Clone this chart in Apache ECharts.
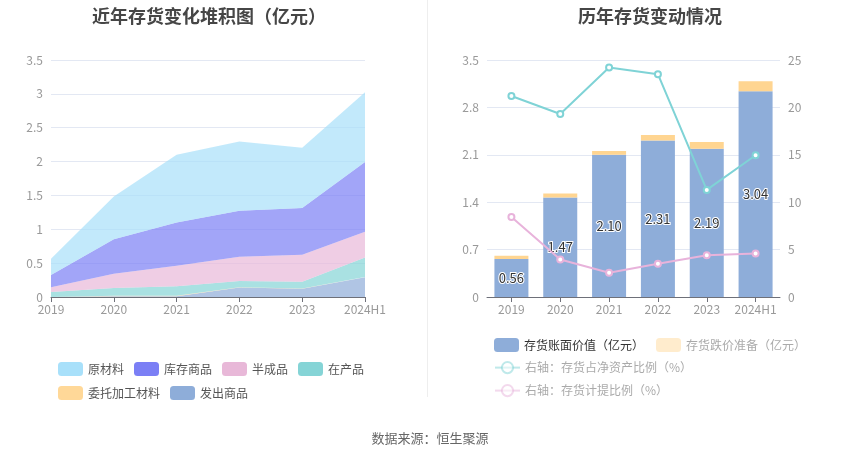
<!DOCTYPE html>
<html>
<head>
<meta charset="utf-8">
<script src="https://cdn.jsdelivr.net/npm/echarts@6/dist/echarts.min.js"></script>
<style>
  html, body { margin: 0; padding: 0; background: #fff; }
  #main { width: 850px; height: 459px; }
</style>
</head>
<body>
<div id="main"></div>
<script>
// 横轴
const years = ["2019", "2020", "2021", "2022", "2023", "2024H1"];

// 左图：存货构成（亿元），从下往上堆叠
const faChu = [0.00, 0.01, 0.01, 0.14, 0.12, 0.29];      // 发出商品
const weiTuo = [0.00, 0.01, 0.01, 0.005, 0.005, 0.005];  // 委托加工材料
const zaiChan = [0.074, 0.113, 0.137, 0.09, 0.10, 0.29]; // 在产品
const banCheng = [0.07, 0.21, 0.305, 0.36, 0.40, 0.38];  // 半成品
const kuCun = [0.18, 0.51, 0.64, 0.68, 0.69, 1.03];      // 库存商品
const yuanCai = [0.24, 0.63, 1.00, 1.02, 0.89, 1.03];    // 原材料

// 右图：存货账面价值 / 跌价准备（亿元），比例（%）
const bookValue = [0.56, 1.47, 2.10, 2.31, 2.19, 3.04];
const reserve = [0.05, 0.06, 0.055, 0.084, 0.10, 0.147];
const netAssetRatio = [21.2, 19.3, 24.2, 23.5, 11.3, 14.95];
const provisionRatio = [8.45, 3.95, 2.55, 3.5, 4.4, 4.6];

const font = '"Noto Sans CJK SC", "Noto Sans", sans-serif';
const axisLabel = { color: '#999', fontSize: 12, fontFamily: font };
const splitLine = { lineStyle: { color: '#e3e8f3' } };
const axisLine = { show: true, lineStyle: { color: '#6e7079' } };

function area(name, data, color) {
  return {
    name, type: 'line', stack: 'total', data,
    xAxisIndex: 0, yAxisIndex: 0,
    symbol: 'none', smooth: false,
    itemStyle: { color },
    lineStyle: { width: 0 },
    areaStyle: { color, opacity: 0.7 }
  };
}

var myChart = echarts.init(document.getElementById('main'));
var option = {
  animation: false,
  textStyle: { fontFamily: font },
  title: [{
    text: '近年存货变化堆积图（亿元）', left: 204, top: 2, textAlign: 'center',
    textStyle: { fontSize: 18, fontWeight: 'bold', color: '#464646', fontFamily: font }
  }, {
    text: '历年存货变动情况', left: 645, top: 2, textAlign: 'center',
    textStyle: { fontSize: 18, fontWeight: 'bold', color: '#464646', fontFamily: font }
  }, {
    text: '数据来源：恒生聚源', left: 425, top: 427, textAlign: 'center',
    textStyle: { fontSize: 13, fontWeight: 'normal', color: '#666', fontFamily: font }
  }],
  graphic: [{
    type: 'line', shape: { x1: 427.5, y1: 0, x2: 427.5, y2: 397 },
    style: { stroke: '#eeeeee', lineWidth: 1 }
  }],
  legend: [{
    left: 53, top: 357, width: 320, itemGap: 10, icon: 'roundRect',
    textStyle: { color: '#555', fontSize: 12, fontFamily: font },
    data: ['原材料', '库存商品', '半成品', '在产品', '委托加工材料', '发出商品']
  }, {
    left: 489, top: 333, itemGap: 12,
    textStyle: { color: '#333', fontSize: 12, fontFamily: font },
    data: [
      { name: '存货账面价值（亿元）', icon: 'roundRect' },
      { name: '存货跌价准备（亿元）', icon: 'roundRect', textStyle: { color: '#aaa' }, itemStyle: { opacity: 0.45 } }
    ]
  }, {
    left: 489, top: 356,
    textStyle: { color: '#aaa', fontSize: 12, fontFamily: font },
    data: [{ name: '右轴：存货占净资产比例（%）', itemStyle: { opacity: 0.5 }, lineStyle: { opacity: 0.5 } }]
  }, {
    left: 489, top: 379,
    textStyle: { color: '#aaa', fontSize: 12, fontFamily: font },
    data: [{ name: '右轴：存货计提比例（%）', itemStyle: { opacity: 0.5 }, lineStyle: { opacity: 0.5 } }]
  }],
  grid: [
    { left: 51, right: 850 - 365, top: 60, bottom: 459 - 297 },
    { left: 487, right: 850 - 780, top: 60, bottom: 459 - 297 }
  ],
  xAxis: [{
    gridIndex: 0, type: 'category', data: years, boundaryGap: false,
    axisLine, axisTick: { show: true, lineStyle: { color: '#6e7079' } },
    axisLabel: Object.assign({ margin: 6, interval: 0 }, axisLabel)
  }, {
    gridIndex: 1, type: 'category', data: years,
    axisLine, axisTick: { show: true, alignWithLabel: true, interval: 0, lineStyle: { color: '#6e7079' } },
    axisLabel: Object.assign({ margin: 6, interval: 0 }, axisLabel)
  }],
  yAxis: [{
    gridIndex: 0, type: 'value', min: 0, max: 3.5, interval: 0.5,
    axisLabel, splitLine, axisLine: { show: false }
  }, {
    gridIndex: 1, type: 'value', min: 0, max: 3.5, interval: 0.7,
    axisLabel: Object.assign({ formatter: v => v.toFixed(1).replace('0.0', '0') }, axisLabel),
    splitLine, axisLine: { show: false }
  }, {
    gridIndex: 1, type: 'value', min: 0, max: 25, interval: 5, position: 'right',
    axisLabel, splitLine: { show: false }, axisLine: { show: false }
  }],
  series: [
    area('发出商品', faChu, '#8eadd9'),
    area('委托加工材料', weiTuo, '#ffd898'),
    area('在产品', zaiChan, '#85d4d6'),
    area('半成品', banCheng, '#e8b8d8'),
    area('库存商品', kuCun, '#7b7ff5'),
    area('原材料', yuanCai, '#a8e0fa'),
    {
      name: '存货账面价值（亿元）', type: 'bar', stack: 'bar', data: bookValue,
      xAxisIndex: 1, yAxisIndex: 1, barWidth: 34,
      itemStyle: { color: '#8eadd9' },
      label: {
        show: true, position: 'inside', formatter: p => p.value.toFixed(2),
        color: '#333', fontSize: 13, fontFamily: font,
        textBorderColor: '#fff', textBorderWidth: 2
      }
    },
    {
      name: '存货跌价准备（亿元）', type: 'bar', stack: 'bar', data: reserve,
      xAxisIndex: 1, yAxisIndex: 1, barWidth: 34,
      itemStyle: { color: '#ffd591' }
    },
    {
      name: '右轴：存货占净资产比例（%）', type: 'line', data: netAssetRatio,
      xAxisIndex: 1, yAxisIndex: 2,
      symbol: 'emptyCircle', symbolSize: 6,
      itemStyle: { color: '#7fd3d6' }, lineStyle: { width: 2, color: '#7fd3d6' }
    },
    {
      name: '右轴：存货计提比例（%）', type: 'line', data: provisionRatio,
      xAxisIndex: 1, yAxisIndex: 2,
      symbol: 'emptyCircle', symbolSize: 6,
      itemStyle: { color: '#e8b3db' }, lineStyle: { width: 2, color: '#e8b3db' }
    }
  ]
};
myChart.setOption(option);
</script>
</body>
</html>
